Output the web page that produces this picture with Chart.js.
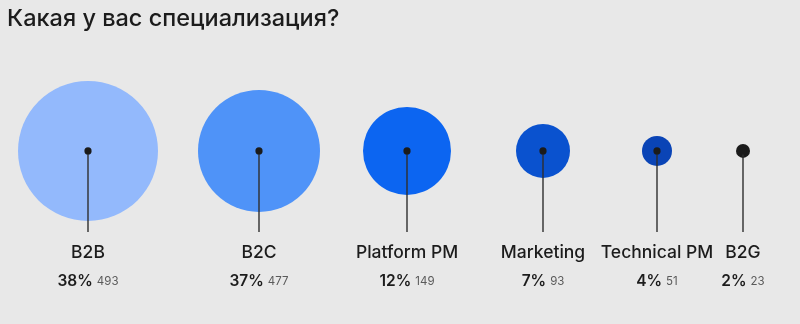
<!DOCTYPE html>
<html>
<head>
<meta charset="utf-8">
<script src="https://cdn.jsdelivr.net/npm/chart.js@4/dist/chart.umd.min.js"></script>
<style>
  html, body { margin: 0; padding: 0; background: #e8e8e8; }
  #wrap { width: 800px; height: 324px; }
</style>
</head>
<body>
<div id="wrap"><canvas id="chart" width="800" height="324"></canvas></div>
<script>
// Data
const categories = ["B2B", "B2C", "Platform PM", "Marketing", "Technical PM", "B2G"];
const counts = [493, 477, 149, 93, 51, 23];
const percents = [38, 37, 12, 7, 4, 2];
// horizontal slot of each bubble and its drawn size (bubble chart x / r)
const slots = [88, 259, 407, 543, 657, 743];
const bubbleSize = [70, 61, 44, 27, 15, 7];

const bubbleColors = ["#93b9fc", "#4f93f8", "#0c65f1", "#0a52cf", "#0a44b6", "#1b1b1b"];
const FONT = "Inter, 'Noto Sans', sans-serif";

// Stems, centre dots and the two label rows under every bubble
const stemLabels = {
    id: "stemLabels",
    afterDatasetsDraw(chart) {
        const { ctx, chartArea } = chart;
        const meta = chart.getDatasetMeta(0);
        ctx.save();
        meta.data.forEach((pt, i) => {
            const x = pt.x, y = pt.y;
            // stem
            ctx.strokeStyle = "#2e2e2e";
            ctx.lineWidth = 1.4;
            ctx.beginPath();
            ctx.moveTo(x, y);
            ctx.lineTo(x, chartArea.bottom);
            ctx.stroke();
            // dot
            ctx.fillStyle = "#1b1b1b";
            ctx.beginPath();
            ctx.arc(x, y, 3.6, 0, Math.PI * 2);
            ctx.fill();

            // category name
            ctx.textAlign = "center";
            ctx.textBaseline = "alphabetic";
            ctx.font = "500 17.5px " + FONT;
            ctx.fillStyle = "#1c1c1c";
            ctx.fillText(categories[i], x, chartArea.bottom + 26);

            // percent + count
            const pct = percents[i] + "%";
            const cnt = String(counts[i]);
            ctx.font = "600 15.5px " + FONT;
            const w1 = ctx.measureText(pct).width;
            ctx.font = "400 11.5px " + FONT;
            const w2 = ctx.measureText(cnt).width;
            const gap = 4;
            let left = x - (w1 + gap + w2) / 2;
            ctx.textAlign = "left";
            ctx.font = "600 15.5px " + FONT;
            ctx.fillStyle = "#1c1c1c";
            ctx.fillText(pct, left, chartArea.bottom + 54);
            ctx.font = "400 11.5px " + FONT;
            ctx.fillStyle = "#5a5a5a";
            ctx.fillText(cnt, left + w1 + gap, chartArea.bottom + 53);
        });
        ctx.restore();
    },
};

const bgPlugin = {
    id: "bg",
    beforeDraw(chart) {
        const { ctx, width, height } = chart;
        ctx.save();
        ctx.fillStyle = "#e8e8e8";
        ctx.fillRect(0, 0, width, height);
        ctx.restore();
    },
};

new Chart(document.getElementById("chart"), {
    type: "bubble",
    data: {
        datasets: [{
            data: categories.map((c, i) => ({ x: slots[i], y: 0, r: bubbleSize[i] })),
            backgroundColor: bubbleColors,
            borderWidth: 0,
            hoverRadius: 0,
            hoverBorderWidth: 0,
        }],
    },
    options: {
        responsive: false,
        animation: false,
        events: [],
        layout: { autoPadding: false, padding: { left: 7, right: 0, top: 0, bottom: 92 } },
        clip: false,
        scales: {
            x: { type: "linear", display: false, min: 7, max: 800 },
            y: { type: "linear", display: false, min: -41, max: 59 },
        },
        plugins: {
            legend: { display: false },
            tooltip: { enabled: false },
            title: {
                display: true,
                text: "Какая у вас специализация?",
                align: "start",
                color: "#1c1c1c",
                font: { family: FONT, size: 23.5, weight: "500" },
                padding: { top: 5, bottom: 1 },
            },
        },
    },
    plugins: [bgPlugin, stemLabels],
});
</script>
</body>
</html>
